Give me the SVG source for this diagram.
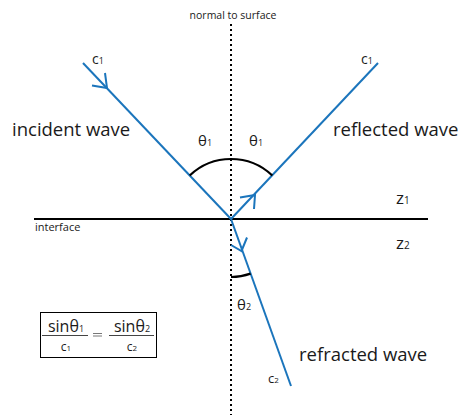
<svg xmlns="http://www.w3.org/2000/svg" width="458" height="415" viewBox="0 0 458 415">
<style>
.ray{stroke:#1b75bc;stroke-width:2;fill:none}
.arr{stroke:#1b75bc;stroke-width:2;fill:none;stroke-linejoin:miter}
.t{font-family:"Open Sans","Noto Sans",sans-serif;fill:#1a1a1a}
.lbl{font-size:18.5px}
.arc{stroke:#000;stroke-width:2.2;fill:none}
</style>
<rect width="458" height="415" fill="#fff"/>
<g id="normal">
<line x1="231" y1="24" x2="231" y2="415" stroke="#000" stroke-width="2" stroke-dasharray="2,3"/>
<text class="t" x="233" y="19" font-size="10.5" text-anchor="middle" fill="#333">normal to surface</text>
</g>
<g id="interface">
<line x1="34" y1="219" x2="428" y2="219" stroke="#000" stroke-width="2"/>
<text class="t" x="35" y="231" font-size="11" fill="#333">interface</text>
</g>
<g id="connectors">
<line class="ray" x1="83" y1="63" x2="231" y2="219"/>
<polyline class="arr" points="92,85.5 107,88 105,73"/>
<line class="ray" x1="231" y1="219" x2="378" y2="63"/>
<polyline class="arr" points="240,197.5 255,195 254,209"/>
<line class="ray" x1="231" y1="219" x2="291" y2="386"/>
<polyline class="arr" points="231,245 241.5,251 247,237.5"/>
<path class="arc" d="M189.7,175.5 A60,60 0 0 1 272.3,175.5"/>
<path class="arc" d="M231,277 A58,58 0 0 0 250.6,273.6"/>
</g>
<g id="incident">
<text class="t lbl" x="12" y="136">incident wave</text>
<text class="t" x="92" y="64" font-size="14">c<tspan font-size="9">1</tspan></text>
<text class="t" x="198" y="146" font-size="15">θ<tspan font-size="9">1</tspan></text>
</g>
<g id="reflected">
<text class="t lbl" x="333" y="136">reflected wave</text>
<text class="t" x="361" y="64" font-size="14">c<tspan font-size="9">1</tspan></text>
<text class="t" x="249" y="146" font-size="15">θ<tspan font-size="9">1</tspan></text>
</g>
<g id="media">
<text class="t" x="396" y="204" font-size="17">z<tspan font-size="10">1</tspan></text>
<text class="t" x="396" y="249" font-size="17">z<tspan font-size="10">2</tspan></text>
</g>
<g id="refracted">
<text class="t lbl" x="299" y="361">refracted wave</text>
<text class="t" x="268" y="383" font-size="13">c<tspan font-size="8">2</tspan></text>
<text class="t" x="237" y="310" font-size="15">θ<tspan font-size="9">2</tspan></text>
</g>
<g id="snell">
<rect x="40.5" y="312.5" width="116" height="45" fill="#fff" stroke="#000" stroke-width="1"/>
<text class="t" x="66" y="332" font-size="16" text-anchor="middle">sinθ<tspan font-size="9">1</tspan></text>
<line x1="42" y1="335.5" x2="88" y2="335.5" stroke="#444" stroke-width="1.2"/>
<text class="t" x="66" y="351" font-size="12" text-anchor="middle">c<tspan font-size="8">1</tspan></text>
<line x1="93" y1="333.5" x2="102" y2="333.5" stroke="#555" stroke-width="0.8"/>
<line x1="93" y1="336" x2="102" y2="336" stroke="#555" stroke-width="0.8"/>
<text class="t" x="132" y="332" font-size="16" text-anchor="middle">sinθ<tspan font-size="9">2</tspan></text>
<line x1="109" y1="335.5" x2="154" y2="335.5" stroke="#444" stroke-width="1.2"/>
<text class="t" x="132" y="351" font-size="12" text-anchor="middle">c<tspan font-size="8">2</tspan></text>
</g>
</svg>
